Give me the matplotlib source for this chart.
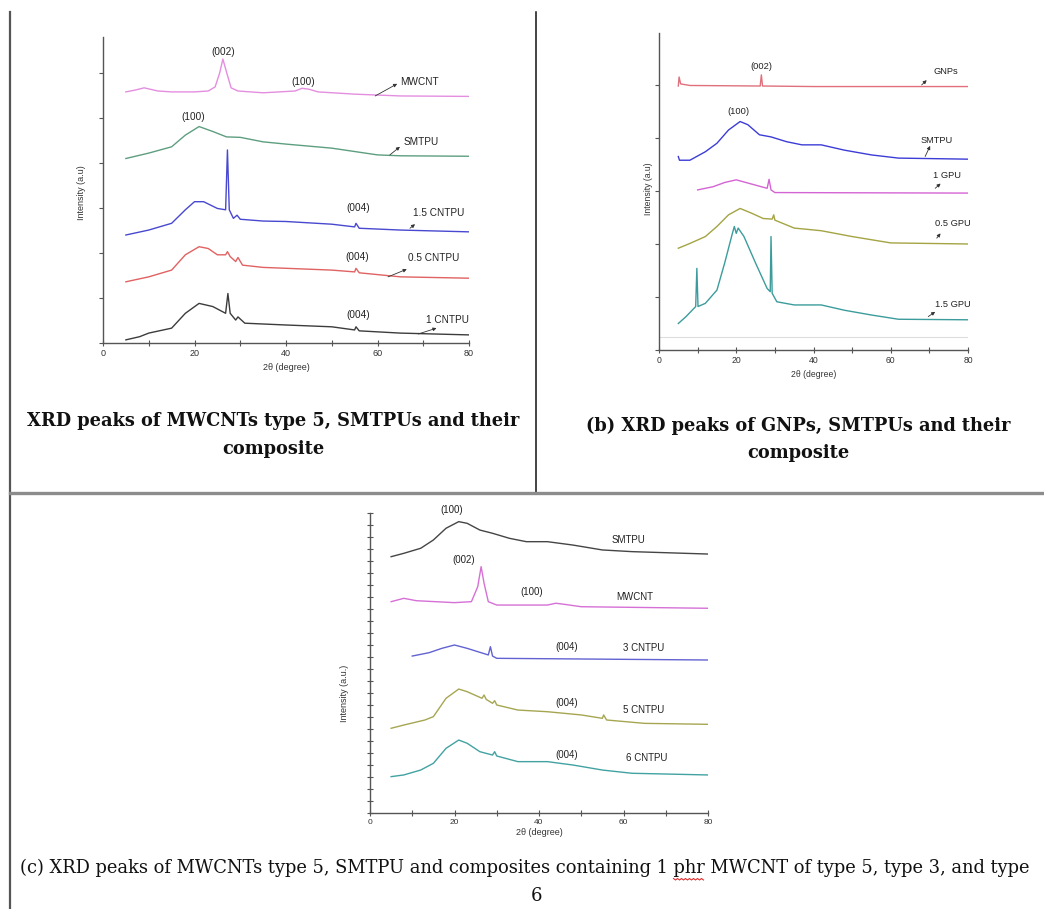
import matplotlib
matplotlib.use("Agg")
import matplotlib.pyplot as plt
from matplotlib.lines import Line2D

# ---------------- data: panel (a) ----------------
a_mwcnt_x = [5, 7, 9, 12, 15, 20, 23, 24.5, 25.5, 26.2, 27, 28, 29.5, 35, 42, 43.5, 45, 47, 55, 65, 80]
a_mwcnt_y = [5.58, 5.62, 5.67, 5.60, 5.58, 5.58, 5.60, 5.69, 6.00, 6.31, 6.02, 5.67, 5.60, 5.56, 5.60, 5.66, 5.64, 5.58, 5.53, 5.49, 5.48]
a_smtpu_x = [5, 10, 15, 18, 21, 24, 27, 30, 35, 40, 50, 60, 65, 80]
a_smtpu_y = [4.10, 4.22, 4.36, 4.62, 4.81, 4.70, 4.58, 4.57, 4.47, 4.42, 4.33, 4.18, 4.16, 4.15]
a_cnt15_x = [5, 10, 15, 18, 20, 22, 25, 26.8, 27.2, 27.6, 28.5, 29.3, 30, 35, 40, 50, 55, 55.3, 56, 65, 80]
a_cnt15_y = [2.40, 2.51, 2.66, 2.96, 3.14, 3.14, 2.99, 2.96, 4.29, 2.96, 2.77, 2.84, 2.75, 2.71, 2.70, 2.64, 2.58, 2.66, 2.55, 2.51, 2.47]
a_cnt05_x = [5, 10, 15, 18, 21, 23, 25, 26.8, 27.2, 27.8, 29, 29.5, 30.5, 35, 40, 50, 55, 55.3, 56, 65, 80]
a_cnt05_y = [1.36, 1.47, 1.62, 1.96, 2.14, 2.10, 1.96, 1.96, 2.03, 1.92, 1.81, 1.90, 1.73, 1.68, 1.66, 1.62, 1.58, 1.66, 1.56, 1.47, 1.44]
a_cnt1_x = [5, 8, 10, 15, 18, 21, 24, 26.8, 27.3, 27.8, 29, 29.5, 31, 40, 50, 55, 55.3, 56, 65, 80]
a_cnt1_y = [0.07, 0.14, 0.22, 0.33, 0.66, 0.88, 0.81, 0.66, 1.10, 0.66, 0.51, 0.58, 0.44, 0.40, 0.36, 0.29, 0.36, 0.27, 0.22, 0.18]

a_names = ["MWCNT", "SMTPU", "1.5 CNTPU", "0.5 CNTPU", "1 CNTPU"]
a_colors = ["#e48ee0", "#5e9e80", "#4848d0", "#e06262", "#3c3c3c"]
a_label_x = [64.9, 65.6, 67.8, 66.7, 70.7]
a_label_y = [5.80, 4.47, 2.88, 1.88, 0.51]
a_arrow_from = [(59.5, 5.49), (62.7, 4.18), (67.1, 2.55), (62.3, 1.47), (68.9, 0.20)]
a_arrow_to = [(64.3, 5.76), (64.9, 4.36), (68.2, 2.64), (66.4, 1.64), (72.9, 0.33)]
a_peak_text = ["(002)", "(100)", "(100)", "(004)", "(004)", "(004)"]
a_peak_x = [26.2, 43.7, 19.7, 55.8, 55.5, 55.8]
a_peak_y = [6.47, 5.80, 5.03, 2.99, 1.92, 0.62]

# ---------------- data: panel (b) ----------------
b_gnp_x = [5, 5.2, 5.6, 8, 26.2, 26.5, 26.8, 40, 80]
b_gnp_y = [4.98, 5.15, 5.02, 4.99, 4.98, 5.19, 4.98, 4.97, 4.97]
b_smtpu_x = [5, 5.3, 8, 12, 15, 18, 21, 23, 26, 29, 33, 37, 42, 48, 55, 62, 80]
b_smtpu_y = [3.65, 3.58, 3.58, 3.74, 3.90, 4.15, 4.31, 4.25, 4.06, 4.02, 3.93, 3.87, 3.87, 3.77, 3.68, 3.62, 3.60]
b_gpu1_x = [10, 14, 17, 20, 23, 28, 28.5, 29, 30, 80]
b_gpu1_y = [3.02, 3.08, 3.16, 3.21, 3.15, 3.05, 3.22, 3.02, 2.97, 2.96]
b_gpu05_x = [5, 8, 12, 15, 18, 21, 24, 27, 29.3, 29.7, 30, 35, 42, 50, 60, 80]
b_gpu05_y = [1.92, 2.01, 2.14, 2.33, 2.55, 2.67, 2.58, 2.48, 2.47, 2.55, 2.45, 2.30, 2.25, 2.14, 2.02, 2.00]
b_gpu15_x = [5, 7, 9.5, 9.8, 10.1, 12, 15, 17, 19, 19.5, 20, 20.5, 22, 25, 28, 28.8, 29, 29.3, 30.5, 35, 42, 48, 55, 62, 80]
b_gpu15_y = [0.50, 0.63, 0.82, 1.54, 0.82, 0.88, 1.13, 1.64, 2.20, 2.33, 2.20, 2.30, 2.14, 1.64, 1.16, 1.10, 2.14, 1.07, 0.91, 0.85, 0.85, 0.75, 0.66, 0.58, 0.57]

b_names = ["GNPs", "SMTPU", "1 GPU", "0.5 GPU", "1.5 GPU"]
b_colors = ["#e0707c", "#3c3cd6", "#d464d4", "#a4a444", "#3c9c9c"]
b_label_x = [71.0, 67.6, 71.0, 71.5, 71.5]
b_label_y = [5.25, 3.96, 3.30, 2.39, 0.85]
b_arrow_from = [(68.0, 5.00), (68.9, 3.65), (71.5, 3.05), (71.9, 2.11), (69.7, 0.63)]
b_arrow_to = [(69.3, 5.09), (70.2, 3.85), (72.9, 3.14), (72.9, 2.20), (71.5, 0.72)]
b_peak_text = ["(002)", "(100)"]
b_peak_x = [26.6, 20.5]
b_peak_y = [5.35, 4.50]

# ---------------- data: panel (c) ----------------
c_smtpu_x = [5, 8, 12, 15, 18, 21, 23, 26, 29, 33, 37, 42, 48, 55, 62, 80]
c_smtpu_y = [21.36, 21.64, 22.06, 22.75, 23.73, 24.28, 24.14, 23.58, 23.31, 22.89, 22.61, 22.61, 22.33, 21.92, 21.78, 21.58]
c_mwcnt_x = [5, 8, 11, 20, 24, 25.5, 26.3, 27, 28, 30, 42, 44, 46, 50, 80]
c_mwcnt_y = [17.61, 17.89, 17.69, 17.53, 17.61, 18.86, 20.53, 19.14, 17.61, 17.33, 17.33, 17.48, 17.39, 17.19, 17.06]
c_cnt3_x = [10, 14, 17, 20, 23, 28, 28.5, 29, 30, 80]
c_cnt3_y = [13.08, 13.36, 13.72, 14.00, 13.72, 13.17, 13.86, 13.08, 12.89, 12.75]
c_cnt5_x = [5, 8, 13, 15, 18, 21, 23, 26.5, 27, 27.5, 29, 29.5, 30, 35, 42, 50, 55, 55.3, 56, 65, 80]
c_cnt5_y = [7.06, 7.33, 7.75, 8.03, 9.56, 10.33, 10.11, 9.56, 9.83, 9.47, 9.14, 9.36, 9.00, 8.58, 8.44, 8.17, 7.89, 8.17, 7.75, 7.47, 7.39]
c_cnt6_x = [5, 8, 12, 15, 18, 21, 23, 26, 29, 29.5, 30, 35, 42, 48, 55, 62, 80]
c_cnt6_y = [3.03, 3.17, 3.58, 4.14, 5.39, 6.08, 5.81, 5.11, 4.83, 5.11, 4.75, 4.28, 4.28, 4.00, 3.58, 3.31, 3.17]

c_names = ["SMTPU", "MWCNT", "3 CNTPU", "5 CNTPU", "6 CNTPU"]
c_colors = ["#454545", "#d670d6", "#6262d2", "#a6a652", "#42a2a2"]
c_label_x = [61.1, 62.7, 64.7, 64.7, 65.5]
c_label_y = [22.75, 17.97, 13.72, 8.58, 4.56]
c_peak_text = ["(100)", "(002)", "(100)", "(004)", "(004)", "(004)"]
c_peak_x = [19.3, 22.1, 38.3, 46.6, 46.6, 46.6]
c_peak_y = [25.25, 21.08, 18.44, 13.86, 9.14, 4.83]

x_major = [0, 20, 40, 60, 80]
x_minor = [10, 30, 50, 70]

caption_a = ["XRD peaks of MWCNTs type 5, SMTPUs and their", "composite"]
caption_b = ["(b) XRD peaks of GNPs, SMTPUs and their", "composite"]
caption_c_pre = "(c) XRD peaks of MWCNTs type 5, SMTPU and composites containing 1 "
caption_c_word = "phr"
caption_c_post = " MWCNT of type 5, type 3, and type"
page_number = "6"

# ---------------- figure ----------------
W, H = 1044, 909
fig = plt.figure(figsize=(W / 100, H / 100), dpi=100)
SANS = ["Liberation Sans", "DejaVu Sans"]
SERIF = ["DejaVu Serif"]
AXC = "#555555"
CAP_FS = 12.8
CAPC_FS = 12.9


def axes_px(x0, x1, ytop, ybot):
    return fig.add_axes([x0 / W, 1 - ybot / H, (x1 - x0) / W, (ybot - ytop) / H])


def style(ax, ymax, yticks, fs, ydir, ylen):
    ax.set_xlim(0, 80)
    ax.set_ylim(0, ymax)
    ax.patch.set_alpha(0)
    for s in ["top", "right"]:
        ax.spines[s].set_visible(False)
    for s in ["left", "bottom"]:
        ax.spines[s].set_color(AXC)
        ax.spines[s].set_linewidth(1.0)
    ax.set_xticks(x_major)
    ax.set_xticks(x_minor, minor=True)
    ax.set_xticklabels([str(v) for v in x_major], family=SANS, fontsize=fs, color="#333")
    ax.set_yticks(yticks)
    ax.set_yticklabels([])
    ax.tick_params(axis="x", which="both", direction="inout", length=4, width=0.8, color=AXC, pad=2)
    ax.tick_params(axis="y", which="both", direction=ydir, length=ylen, width=0.8, color=AXC)
    ax.set_xlabel("2θ (degree)", family=SANS, fontsize=fs, color="#333", labelpad=4)


def panel_text(ax, x, y, t, fs, ha="left"):
    ax.text(x, y, t, family=SANS, fontsize=fs, color="#222", ha=ha, va="center", clip_on=False)


def arrow(ax, p0, p1, c):
    ax.annotate("", xy=p1, xytext=p0,
                arrowprops=dict(arrowstyle="-|>", color="#333", lw=0.6, mutation_scale=5,
                                shrinkA=0, shrinkB=0))


# ---- panel (a)
axa = axes_px(103, 469, 37, 343)
style(axa, 6.8, list(range(7)), 6.5, "out", 3)
a_series = [(a_mwcnt_x, a_mwcnt_y), (a_smtpu_x, a_smtpu_y), (a_cnt15_x, a_cnt15_y),
            (a_cnt05_x, a_cnt05_y), (a_cnt1_x, a_cnt1_y)]
for (xs, ys), c in zip(a_series, a_colors):
    axa.plot(xs, ys, color=c, lw=1.0)
for n, lx, ly, p0, p1, c in zip(a_names, a_label_x, a_label_y, a_arrow_from, a_arrow_to, a_colors):
    panel_text(axa, lx, ly, n, 7.2)
    arrow(axa, p0, p1, c)
for t, px, py in zip(a_peak_text, a_peak_x, a_peak_y):
    panel_text(axa, px, py, t, 7.2, ha="center")
axa.text(-0.06, 0.49, "Intensity (a.u)", transform=axa.transAxes, rotation=90, family=SANS,
         fontsize=6.5, color="#333", ha="center", va="center")

# ---- panel (b)
axb = axes_px(659, 968, 33, 350)
style(axb, 5.98, list(range(6)), 6.2, "out", 3)
axb.axhline(0.25, color="#dddddd", lw=0.8)
b_series = [(b_gnp_x, b_gnp_y), (b_smtpu_x, b_smtpu_y), (b_gpu1_x, b_gpu1_y),
            (b_gpu05_x, b_gpu05_y), (b_gpu15_x, b_gpu15_y)]
for (xs, ys), c in zip(b_series, b_colors):
    axb.plot(xs, ys, color=c, lw=1.0)
for n, lx, ly, p0, p1, c in zip(b_names, b_label_x, b_label_y, b_arrow_from, b_arrow_to, b_colors):
    panel_text(axb, lx, ly, n, 6.7)
    arrow(axb, p0, p1, c)
for t, px, py in zip(b_peak_text, b_peak_x, b_peak_y):
    panel_text(axb, px, py, t, 6.7, ha="center")
axb.text(-0.035, 0.51, "Intensity (a.u)", transform=axb.transAxes, rotation=90, family=SANS,
         fontsize=6.2, color="#333", ha="center", va="center")

# ---- panel (c)
axc = axes_px(370, 708, 513, 813)
style(axc, 25, list(range(26)), 6.0, "inout", 4)
axc.set_xlabel("2θ (degree)", family=SANS, fontsize=6.5, color="#333", labelpad=2)
c_series = [(c_smtpu_x, c_smtpu_y), (c_mwcnt_x, c_mwcnt_y), (c_cnt3_x, c_cnt3_y),
            (c_cnt5_x, c_cnt5_y), (c_cnt6_x, c_cnt6_y)]
for (xs, ys), c in zip(c_series, c_colors):
    axc.plot(xs, ys, color=c, lw=1.0)
for n, lx, ly in zip(c_names, c_label_x, c_label_y):
    panel_text(axc, lx, ly, n, 7.0, ha="center")
for t, px, py in zip(c_peak_text, c_peak_x, c_peak_y):
    panel_text(axc, px, py, t, 7.0, ha="center")
axc.text(-0.075, 0.40, "Intensity (a.u.)", transform=axc.transAxes, rotation=90, family=SANS,
         fontsize=6.5, color="#333", ha="center", va="center")


# ---- frame lines
def fline(x0, y0, x1, y1, **kw):
    fig.add_artist(Line2D([x0 / W, x1 / W], [1 - y0 / H, 1 - y1 / H], transform=fig.transFigure, **kw))


fline(10, 12, 10, 909, color="#555555", lw=1.6)
fline(536, 12, 536, 492, color="#111111", lw=1.1)
fline(10, 493, 1044, 493, color="#8c8c8c", lw=2.4)

# ---- captions
fig.text(273 / W, 1 - 421 / H, caption_a[0], family=SERIF, fontweight="bold", fontsize=CAP_FS,
         ha="center", va="center", color="#111")
fig.text(273 / W, 1 - 449 / H, caption_a[1], family=SERIF, fontweight="bold", fontsize=CAP_FS,
         ha="center", va="center", color="#111")
fig.text(798 / W, 1 - 426 / H, caption_b[0], family=SERIF, fontweight="bold", fontsize=CAP_FS,
         ha="center", va="center", color="#111")
fig.text(798 / W, 1 - 453 / H, caption_b[1], family=SERIF, fontweight="bold", fontsize=CAP_FS,
         ha="center", va="center", color="#111")

full_c = caption_c_pre + caption_c_word + caption_c_post
tc = fig.text(20 / W, 1 - 868 / H, full_c, family=SERIF, fontsize=CAPC_FS, ha="left", va="center",
              color="#111")
fig.text(536 / W, 1 - 896 / H, page_number, family=SERIF, fontsize=CAPC_FS, ha="center",
         va="center", color="#111")

# red wavy underline below the word "phr"
r = fig.canvas.get_renderer()
tmp = fig.text(0, 0, caption_c_pre, family=SERIF, fontsize=CAPC_FS)
w_pre = tmp.get_window_extent(r).width
tmp.set_text(caption_c_pre + caption_c_word)
w_word = tmp.get_window_extent(r).width
tmp.remove()
xs0 = 20 + w_pre
xs1 = 20 + w_word
wx, wy = [], []
k = 0
xx = xs0
while xx <= xs1:
    wx.append(xx / W)
    wy.append(1 - (879 + (1 if k % 2 else -0.5)) / H)
    xx += 2
    k += 1
fig.add_artist(Line2D(wx, wy, transform=fig.transFigure, color="#e03030", lw=0.8))

fig.savefig("out.png", dpi=100)
